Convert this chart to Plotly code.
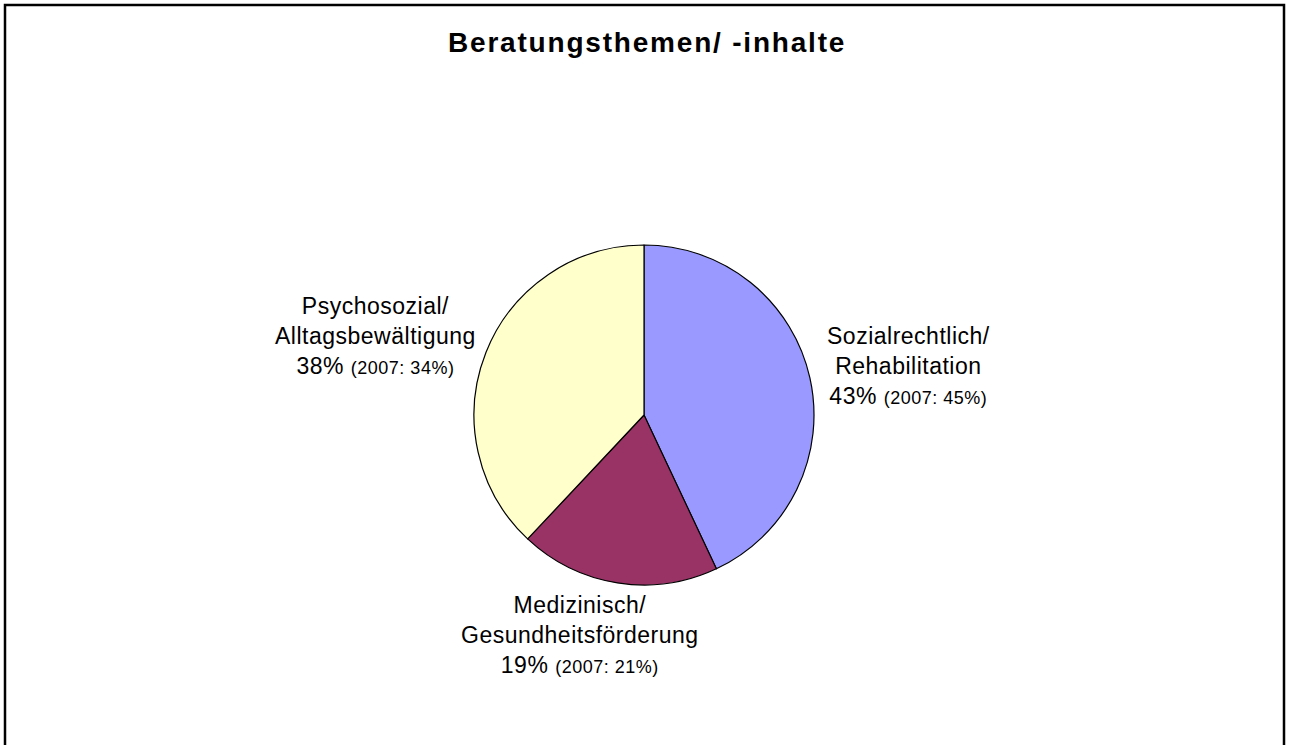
import plotly.graph_objects as go

categories = ["Sozialrechtlich/<br>Rehabilitation", "Medizinisch/<br>Gesundheitsförderung", "Psychosozial/<br>Alltagsbewältigung"]
values_2008 = [43, 19, 38]
values_2007 = [45, 21, 34]
colors = ["#9999FF", "#993366", "#FFFFCC"]
title_text = "Beratungsthemen/ -inhalte"

W, H = 1290, 745
cx, cy, r = 644, 415, 170
FONT = "Liberation Sans, Arial, sans-serif"

fig = go.Figure()
fig.add_trace(go.Pie(
    labels=[c.replace("<br>", " ") for c in categories],
    values=values_2008,
    sort=False,
    direction="clockwise",
    rotation=0,
    marker=dict(colors=colors, line=dict(color="black", width=1.2)),
    textinfo="none",
    hoverinfo="label+percent",
    showlegend=False,
    domain=dict(x=[(cx - r) / W, (cx + r) / W], y=[1 - (cy + r) / H, 1 - (cy - r) / H]),
))

# label positions (pixel centers)
label_pos = [(908, 366), (580, 635), (375, 336)]
for cat, v, v7, (px, py) in zip(categories, values_2008, values_2007, label_pos):
    txt = (f"<span style='letter-spacing:0.5px'>{cat}<br>{v}% </span>"
           f"<span style='font-size:18px;letter-spacing:0.5px'>(2007: {v7}%)</span>")
    fig.add_annotation(
        x=px / W, y=1 - py / H, xref="paper", yref="paper",
        text=txt, showarrow=False, align="center",
        xanchor="center", yanchor="middle",
        font=dict(family=FONT, size=23, color="black"),
    )

fig.add_annotation(
    x=647 / W, y=1 - 43 / H, xref="paper", yref="paper",
    text=f"<b><span style='letter-spacing:1.8px'>{title_text}</span></b>", showarrow=False,
    xanchor="center", yanchor="middle",
    font=dict(family=FONT, size=28, color="black"),
)

fig.add_shape(type="rect", xref="paper", yref="paper",
              x0=5 / W, x1=1284 / W, y0=-0.01, y1=1 - 5 / H,
              line=dict(color="black", width=2.5), fillcolor="rgba(0,0,0,0)")

fig.update_layout(
    width=W, height=H,
    margin=dict(l=0, r=0, t=0, b=0),
    paper_bgcolor="white", plot_bgcolor="white",
)

fig.write_html("out.html", config={"displayModeBar": False},
               post_script="document.body.style.margin='0';")
